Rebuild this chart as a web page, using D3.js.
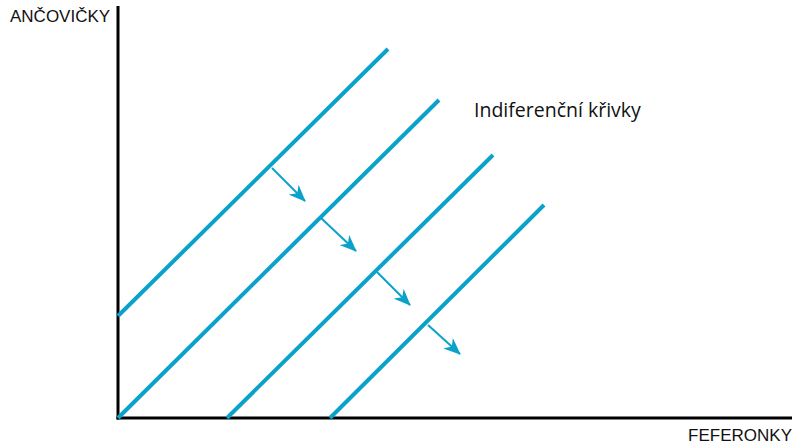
<!DOCTYPE html>
<html>
<head>
<meta charset="utf-8">
<script src="https://cdn.jsdelivr.net/npm/d3@7"></script>
<style>
  html, body { margin: 0; padding: 0; background: #fff; }
  svg { display: block; }
</style>
</head>
<body>
<svg id="chart" width="794" height="444"></svg>
<script>
// indifference curves, start/end in chart units
const curveStart = [[0, 102], [0, 0], [109, 0], [212, 0]];
const curveEnd = [[270, 369], [321, 318], [375, 263], [426, 213]];
// arrows showing the direction of preference
const arrowStart = [[154, 250], [203, 200], [259, 146], [310, 93]];
const arrowEnd = [[187, 217], [238, 167], [292, 113], [342, 64]];

const xLabel = 'FEFERONKY';
const yLabel = 'ANČOVIČKY';
const curveLabel = 'Indiferenční křivky';

const blue = '#0aa2ca';
const svg = d3.select('#chart');

const x = d3.scaleLinear().domain([0, 674]).range([118, 792]);
const y = d3.scaleLinear().domain([0, 412]).range([418, 6]);

svg.append('defs').append('marker')
    .attr('id', 'head')
    .attr('markerUnits', 'userSpaceOnUse')
    .attr('viewBox', '0 -7 17 14')
    .attr('refX', 16)
    .attr('refY', 0)
    .attr('markerWidth', 17)
    .attr('markerHeight', 14)
    .attr('orient', 'auto')
    .append('path')
    .attr('d', 'M0,-7L17,0L0,7L5,0Z')
    .attr('fill', blue);

// axes
svg.append('line')
    .attr('x1', x(0)).attr('y1', y(412))
    .attr('x2', x(0)).attr('y2', y(0) + 1.5)
    .attr('stroke', '#000').attr('stroke-width', 3);
svg.append('line')
    .attr('x1', x(0) - 1.5).attr('y1', y(0))
    .attr('x2', x(674)).attr('y2', y(0))
    .attr('stroke', '#000').attr('stroke-width', 3);

svg.selectAll('.curve')
    .data(curveStart)
    .enter().append('line')
    .attr('class', 'curve')
    .attr('x1', d => x(d[0]))
    .attr('y1', d => y(d[1]))
    .attr('x2', (d, i) => x(curveEnd[i][0]))
    .attr('y2', (d, i) => y(curveEnd[i][1]))
    .attr('stroke', blue)
    .attr('stroke-width', 4);

svg.selectAll('.arrow')
    .data(arrowStart)
    .enter().append('line')
    .attr('class', 'arrow')
    .attr('x1', d => x(d[0]))
    .attr('y1', d => y(d[1]))
    .attr('x2', (d, i) => x(arrowEnd[i][0]))
    .attr('y2', (d, i) => y(arrowEnd[i][1]))
    .attr('stroke', blue)
    .attr('stroke-width', 2)
    .attr('marker-end', 'url(#head)');

svg.append('text')
    .attr('x', 10).attr('y', 22)
    .style('font-family', 'Liberation Sans, Arial, sans-serif')
    .style('font-size', '17px')
    .attr('fill', '#111')
    .text(yLabel);

svg.append('text')
    .attr('x', 792).attr('y', 441)
    .attr('text-anchor', 'end')
    .style('font-family', 'Liberation Sans, Arial, sans-serif')
    .style('font-size', '17px')
    .attr('fill', '#111')
    .text(xLabel);

svg.append('text')
    .attr('x', 474).attr('y', 117)
    .style('font-family', 'Open Sans, sans-serif')
    .style('font-size', '19.5px')
    .attr('fill', '#111')
    .text(curveLabel);
</script>
</body>
</html>
